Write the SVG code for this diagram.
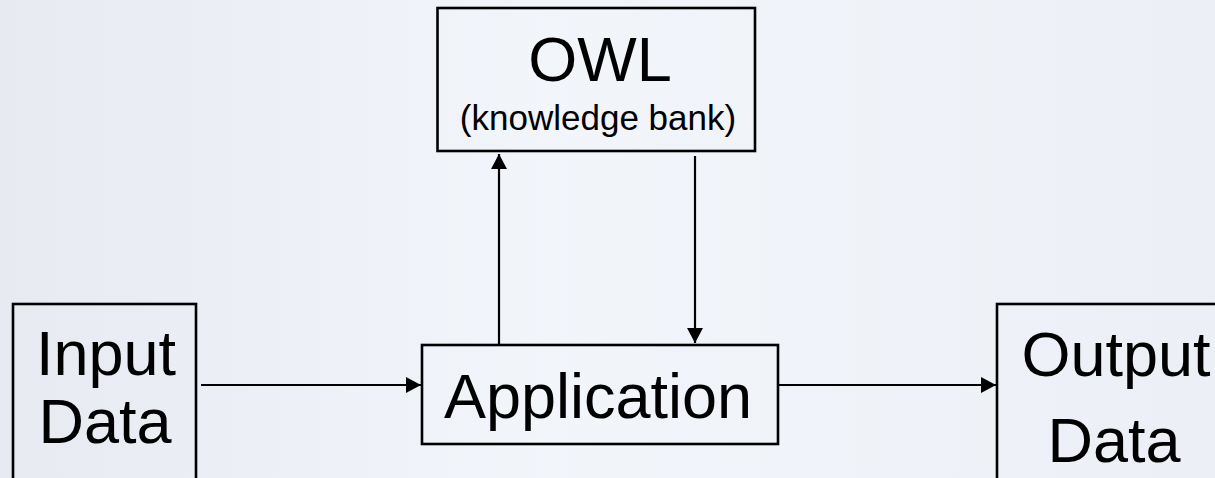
<svg xmlns="http://www.w3.org/2000/svg" width="1215" height="478" viewBox="0 0 1215 478">
  <defs>
    <linearGradient id="bg" x1="0" y1="0" x2="1" y2="0">
      <stop offset="0" stop-color="#e7eaf1"/>
      <stop offset="0.45" stop-color="#f2f5fa"/>
      <stop offset="1" stop-color="#eceff5"/>
    </linearGradient>
    <marker id="arrow" viewBox="0 0 15 16" refX="15" refY="8" markerWidth="15" markerHeight="16" markerUnits="userSpaceOnUse" orient="auto">
      <path d="M0,0 L15,8 L0,16 Z" fill="#000"/>
    </marker>
  </defs>
  <style>
    .box { fill: none; stroke: #000; stroke-width: 2.6; }
    .big { font-family: "Liberation Sans", Arial, sans-serif; font-size: 63px; fill: #000; text-anchor: middle; }
    .small { font-family: "Liberation Sans", Arial, sans-serif; font-size: 35px; fill: #000; text-anchor: middle; }
    .conn { stroke: #000; stroke-width: 2.2; fill: none; marker-end: url(#arrow); }
  </style>
  <rect x="0" y="0" width="1215" height="478" fill="url(#bg)"/>
  <g id="connectors">
    <line class="conn" x1="499" y1="344" x2="499" y2="154"/>
    <line class="conn" x1="695" y1="156" x2="695" y2="343"/>
    <line class="conn" x1="201" y1="385" x2="421" y2="385"/>
    <line class="conn" x1="778" y1="385" x2="996" y2="385"/>
  </g>
  <g id="owl">
    <rect class="box" x="437.5" y="8" width="317.5" height="143"/>
    <text class="big" x="600" y="81">OWL</text>
    <text class="small" x="598" y="130">(knowledge bank)</text>
  </g>
  <g id="application">
    <rect class="box" x="422" y="345" width="356" height="99"/>
    <text class="big" x="598" y="418">Application</text>
  </g>
  <g id="input">
    <rect class="box" x="13" y="304" width="183" height="200"/>
    <text class="big" x="106" y="375">Input</text>
    <text class="big" x="105" y="443">Data</text>
  </g>
  <g id="output">
    <rect class="box" x="997" y="304" width="240" height="200"/>
    <text class="big" x="1116" y="376">Output</text>
    <text class="big" x="1114" y="462">Data</text>
  </g>
</svg>
